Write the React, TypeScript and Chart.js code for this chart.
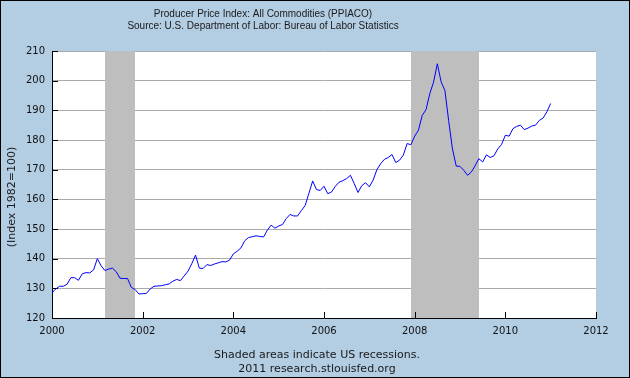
import React, { useEffect, useRef } from 'react';
import { Chart, registerables } from 'chart.js';

Chart.register(...registerables);

// Monthly PPI (All Commodities), Jan 2000 .. Jan 2011
const startYear = 2000;
const ppi2000 = [128.5, 129.8, 130.7, 130.7, 131.4, 133.6, 133.6, 132.7, 134.9, 135.3, 135.2, 136.2];
const ppi2001 = [140.0, 137.6, 136.0, 136.5, 136.8, 135.6, 133.4, 133.3, 133.3, 130.3, 129.6, 128.1];
const ppi2002 = [128.2, 128.3, 129.8, 130.7, 130.8, 130.9, 131.2, 131.5, 132.4, 133.0, 132.6, 134.2];
const ppi2003 = [135.8, 138.3, 141.2, 136.8, 136.7, 138.0, 137.7, 138.2, 138.6, 139.0, 138.9, 139.5];
const ppi2004 = [141.6, 142.5, 143.6, 146.0, 147.1, 147.4, 147.7, 147.5, 147.3, 149.6, 151.3, 150.3];
const ppi2005 = [151.0, 151.5, 153.5, 154.9, 154.4, 154.4, 156.2, 157.9, 162.0, 166.2, 163.3, 163.0];
const ppi2006 = [164.4, 161.9, 162.5, 164.4, 165.8, 166.3, 167.0, 168.1, 165.3, 162.3, 164.6, 165.6];
const ppi2007 = [164.2, 166.5, 170.0, 172.0, 173.5, 174.1, 175.1, 172.4, 173.2, 174.9, 178.8, 178.4];
const ppi2008 = [181.3, 183.3, 188.3, 190.2, 195.6, 199.5, 205.7, 199.6, 196.7, 186.5, 177.0, 171.2];
const ppi2009 = [171.1, 169.8, 168.1, 169.2, 171.3, 173.7, 172.6, 175.0, 174.1, 174.7, 177.0, 178.5];
const ppi2010 = [181.6, 181.3, 183.8, 184.6, 185.0, 183.5, 184.0, 184.7, 185.0, 186.6, 187.4, 189.5];
const ppi2011 = [192.3];

const ppiValues = [
  ...ppi2000, ...ppi2001, ...ppi2002, ...ppi2003, ...ppi2004, ...ppi2005,
  ...ppi2006, ...ppi2007, ...ppi2008, ...ppi2009, ...ppi2010, ...ppi2011,
];

// Recessions: [start, end] as decimal years
const recessionStarts = [2001 + 2 / 12, 2007 + 11 / 12];
const recessionEnds = [2001 + 10 / 12, 2009 + 5 / 12];

const xTickValues = [2000, 2002, 2004, 2006, 2008, 2010, 2012];
const yTickValues = [120, 130, 140, 150, 160, 170, 180, 190, 200, 210];

const titleLines = [
  'Producer Price Index: All Commodities (PPIACO)',
  'Source: U.S. Department of Labor: Bureau of Labor Statistics',
];
const footerLines = ['Shaded areas indicate US recessions.', '2011 research.stlouisfed.org'];
const yAxisTitle = '(Index 1982=100)';

const decorPlugin = {
  id: 'fredDecor',
  beforeDraw(chart: any) {
    const { ctx, width, height, chartArea: a } = chart;
    ctx.save();
    ctx.fillStyle = '#b3cde3';
    ctx.fillRect(0, 0, width, height);
    ctx.fillStyle = '#ffffff';
    ctx.fillRect(a.left, a.top, a.right - a.left, a.bottom - a.top);
    ctx.restore();
  },
  beforeDatasetsDraw(chart: any) {
    const { ctx, chartArea: a } = chart;
    const xs = chart.scales.x;
    const ys = chart.scales.y;
    ctx.save();
    ctx.fillStyle = '#bebebe';
    for (let i = 0; i < recessionStarts.length; i++) {
      const x0 = Math.round(xs.getPixelForValue(recessionStarts[i]));
      const x1 = Math.round(xs.getPixelForValue(recessionEnds[i]));
      ctx.fillRect(x0, Math.floor(a.top), x1 - x0, Math.round(a.bottom) - Math.floor(a.top));
    }
    ctx.strokeStyle = '#000000';
    ctx.lineWidth = 1;
    ctx.beginPath();
    xTickValues.forEach((v) => {
      const px = Math.round(xs.getPixelForValue(v)) + 0.5;
      ctx.moveTo(px, Math.round(a.bottom));
      ctx.lineTo(px, Math.round(a.bottom) - 6);
    });
    yTickValues.forEach((v) => {
      const py = Math.round(ys.getPixelForValue(v)) + 0.5;
      ctx.moveTo(Math.round(a.left), py);
      ctx.lineTo(Math.round(a.left) + 6, py);
    });
    ctx.stroke();
    ctx.restore();
  },
  afterDraw(chart: any) {
    const { ctx, width, height } = chart;
    ctx.save();
    ctx.fillStyle = '#1a1a1a';
    ctx.textAlign = 'center';
    ctx.textBaseline = 'middle';
    ctx.font = '10px "Liberation Sans", Arial, sans-serif';
    ctx.fillText(titleLines[0], 263, 14);
    ctx.fillText(titleLines[1], 263, 26);
    ctx.font = '11px "DejaVu Sans", Verdana, sans-serif';
    ctx.fillText(footerLines[0], 317, 355);
    ctx.fillText(footerLines[1], 317, 369);
    ctx.save();
    ctx.translate(12.5, 197);
    ctx.rotate(-Math.PI / 2);
    ctx.fillText(yAxisTitle, 0, 0);
    ctx.restore();
    ctx.strokeStyle = '#000000';
    ctx.lineWidth = 1;
    ctx.strokeRect(0.5, 0.5, width - 1, height - 1);
    ctx.restore();
  },
};

export default function App() {
  const canvasRef = useRef<HTMLCanvasElement | null>(null);

  useEffect(() => {
    document.body.style.margin = '0';
    const canvas = canvasRef.current;
    if (!canvas) return;
    const points = ppiValues.map((v, i) => ({ x: startYear + i / 12, y: v }));
    const tickFont = { family: '"DejaVu Sans", Verdana, sans-serif', size: 10 };
    const chart = new Chart(canvas, {
      type: 'line',
      data: {
        datasets: [
          {
            data: points,
            borderColor: '#0000ff',
            borderWidth: 1,
            pointRadius: 0,
            tension: 0,
            fill: false,
          },
        ],
      },
      options: {
        animation: false,
        responsive: false,
        devicePixelRatio: 1,
        layout: { padding: { left: 0, right: 34, top: 51, bottom: 38 } },
        plugins: {
          legend: { display: false },
          tooltip: { enabled: false },
          title: { display: false },
        },
        scales: {
          x: {
            type: 'linear',
            min: 2000,
            max: 2012,
            afterFit: (s: any) => {
              s.height = 22;
            },
            afterBuildTicks: (s: any) => {
              s.ticks = xTickValues.map((v) => ({ value: v }));
            },
            grid: { drawOnChartArea: false, drawTicks: false },
            border: { display: true, color: '#000000', width: 1 },
            ticks: {
              padding: 7,
              color: '#111111',
              font: tickFont,
              maxRotation: 0,
              minRotation: 0,
              autoSkip: false,
              callback: (v: any) => String(v),
            },
          },
          y: {
            type: 'linear',
            min: 120,
            max: 210,
            afterFit: (s: any) => {
              s.width = 52;
            },
            afterBuildTicks: (s: any) => {
              s.ticks = yTickValues.map((v) => ({ value: v }));
            },
            grid: { color: '#aaaaaa', lineWidth: 1, drawTicks: false },
            border: { display: true, color: '#000000', width: 1 },
            ticks: {
              padding: 7,
              color: '#111111',
              font: tickFont,
              callback: (v: any) => String(v),
            },
          },
        },
      },
      plugins: [decorPlugin],
    } as any);
    return () => chart.destroy();
  }, []);

  return (
    <div style={{ position: 'absolute', left: 0, top: 0, width: 630, height: 378 }}>
      <canvas ref={canvasRef} width={630} height={378} style={{ display: 'block' }} />
    </div>
  );
}
